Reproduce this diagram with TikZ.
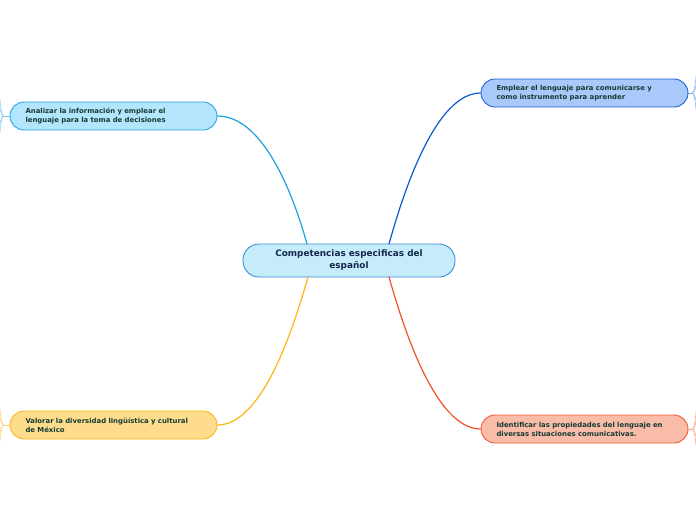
\documentclass[tikz,border=0pt]{standalone}
\usepackage{fontspec}
\setmainfont{DejaVu Sans}
\definecolor{cfill}{HTML}{C6EBFB}
\definecolor{cdraw}{HTML}{3C8FD2}
\definecolor{ctext}{HTML}{13284A}
\definecolor{btext}{HTML}{173A33}
\definecolor{tlfill}{HTML}{B3E5FC}
\definecolor{tldraw}{HTML}{25A6E6}
\definecolor{tlline}{HTML}{1EA0E0}
\definecolor{trfill}{HTML}{A8C9FA}
\definecolor{trdraw}{HTML}{1F62D2}
\definecolor{trline}{HTML}{0C59CF}
\definecolor{blfill}{HTML}{FDDC8C}
\definecolor{bldraw}{HTML}{F8B81E}
\definecolor{blline}{HTML}{FDB714}
\definecolor{brfill}{HTML}{F8BCA9}
\definecolor{brdraw}{HTML}{F05A32}
\definecolor{brline}{HTML}{F0522A}
\tikzset{
  centerbox/.style={draw=cdraw, fill=cfill, line width=0.9pt, rounded corners=16pt,
    minimum width=212pt, minimum height=33pt, inner sep=0pt, align=center,
    text=ctext, font=\bfseries\fontsize{8.9}{12}\selectfont},
  branchbox/.style={line width=0.9pt, rounded corners=14pt,
    minimum width=207pt, minimum height=28pt, inner xsep=15.5pt, inner ysep=0pt,
    text width=176pt, align=left, text=btext, font=\bfseries\fontsize{6.9}{9}\selectfont},
  conn/.style={line width=1.2pt},
  fan/.style={line width=0.7pt},
}
\begin{document}
\begin{tikzpicture}[x=1pt,y=-1pt]
\clip (0,0) rectangle (696,520);
\fill[white] (0,0) rectangle (696,520);

\node[centerbox] (c) at (349,260.5) {Competencias especificas del\\español};

\node[branchbox, draw=tldraw, fill=tlfill] (tl) at (113.5,116) {Analizar la información y emplear el\\lenguaje para la toma de decisiones};
\node[branchbox, draw=trdraw, fill=trfill] (tr) at (584.5,93) {Emplear el lenguaje para comunicarse y\\como instrumento para aprender};
\node[branchbox, draw=bldraw, fill=blfill] (bl) at (113.5,425) {Valorar la diversidad lingüística y cultural\\de México};
\node[branchbox, draw=brdraw, fill=brfill] (br) at (584.5,429) {Identificar las propiedades del lenguaje en\\diversas situaciones comunicativas.};

\coordinate (ctl) at (307,244);
\coordinate (ctr) at (389,244);
\coordinate (cbl) at (308,277);
\coordinate (cbr) at (389,277);

\draw[conn, tlline] (tl.east) .. controls (262,116) and (292,190) .. (ctl);
\draw[conn, trline] (tr.west) .. controls (436,93) and (404,190) .. (ctr);
\draw[conn, blline] (bl.east) .. controls (262,425) and (293,330) .. (cbl);
\draw[conn, brline] (br.west) .. controls (436,429) and (404,330) .. (cbr);

% fans to children outside the picture
\coordinate (ftl) at (4,116);
\coordinate (ftr) at (692,93);
\coordinate (fbl) at (4,425);
\coordinate (fbr) at (692,429);
\draw[fan, tlline!60] (tl.west) -- (ftl);
\foreach \d in {-22,-11,11,22}
  \draw[fan, tlline!45] (ftl) .. controls (1,116) and (1,116+\d*0.5) .. (-1,116+\d);
\draw[fan, trline!55] (tr.east) -- (ftr);
\foreach \d in {-22,-11,11,22}
  \draw[fan, trline!40] (ftr) .. controls (695,93) and (695,93+\d*0.5) .. (697,93+\d);
\draw[fan, blline!65] (bl.west) -- (fbl);
\foreach \d in {-22,-11,11,22}
  \draw[fan, blline!50] (fbl) .. controls (1,425) and (1,425+\d*0.5) .. (-1,425+\d);
\draw[fan, brline!55] (br.east) -- (fbr);
\foreach \d in {-22,-11,11,22}
  \draw[fan, brline!45] (fbr) .. controls (695,429) and (695,429+\d*0.5) .. (697,429+\d);
\end{tikzpicture}
\end{document}
